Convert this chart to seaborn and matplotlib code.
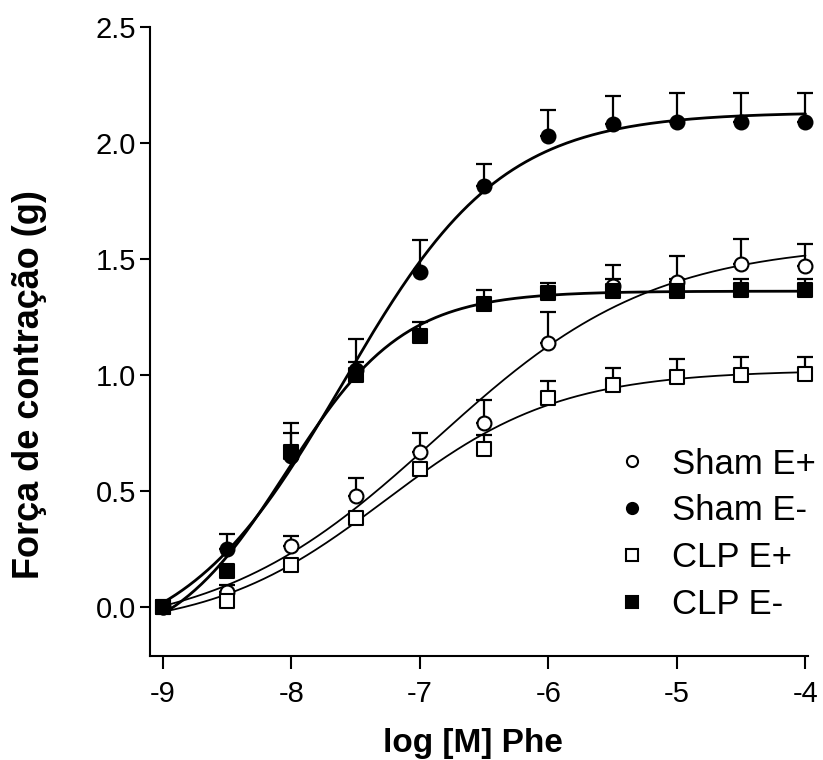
import numpy as np
import pandas as pd
import matplotlib
matplotlib.use("Agg")
import matplotlib.pyplot as plt
from matplotlib.lines import Line2D
import seaborn as sns

# log [M] Phe
log_phe = [-9, -8.5, -8, -7.5, -7, -6.5, -6, -5.5, -5, -4.5, -4]

# media e erro (apenas barra superior)
sham_ep = [0.0, 0.065, 0.262, 0.480, 0.667, 0.793, 1.137, 1.385, 1.402, 1.481, 1.471]
sham_ep_err = [0.0, 0.030, 0.045, 0.079, 0.083, 0.101, 0.133, 0.089, 0.110, 0.105, 0.094]

sham_em = [0.0, 0.250, 0.652, 1.023, 1.443, 1.813, 2.032, 2.082, 2.092, 2.092, 2.092]
sham_em_err = [0.0, 0.065, 0.141, 0.132, 0.140, 0.095, 0.112, 0.119, 0.124, 0.124, 0.124]

clp_ep = [0.0, 0.027, 0.182, 0.384, 0.595, 0.684, 0.901, 0.957, 0.990, 1.000, 1.003]
clp_ep_err = [0.0, 0.020, 0.020, 0.020, 0.020, 0.057, 0.074, 0.072, 0.079, 0.079, 0.076]

clp_em = [0.0, 0.157, 0.667, 1.000, 1.169, 1.306, 1.352, 1.363, 1.363, 1.368, 1.368]
clp_em_err = [0.0, 0.020, 0.083, 0.057, 0.058, 0.062, 0.047, 0.051, 0.051, 0.046, 0.046]

labels = ["Sham E+", "Sham E-", "CLP E+", "CLP E-"]


def fit_sigmoid(x, y):
    # ajuste logistico de 4 parametros (busca em grade + minimos quadrados)
    x = np.asarray(x, float)
    y = np.asarray(y, float)
    best = None
    for ec50 in np.arange(-9.0, -4.0, 0.01):
        for h in np.arange(0.3, 2.5, 0.01):
            f = 1.0 / (1.0 + 10 ** ((ec50 - x) * h))
            A = np.column_stack([np.ones_like(f), f])
            coef, *_ = np.linalg.lstsq(A, y, rcond=None)
            sse = np.sum((A @ coef - y) ** 2)
            if best is None or sse < best[0]:
                best = (sse, ec50, h, coef)
    _, ec50, h, coef = best
    xs = np.linspace(-9, -4, 300)
    return xs, coef[0] + coef[1] / (1.0 + 10 ** ((ec50 - xs) * h))


sns.set_style("ticks")
plt.rcParams['font.family'] = ['Liberation Sans', 'DejaVu Sans']
plt.rcParams['text.color'] = 'black'
plt.rcParams['axes.labelcolor'] = 'black'

fig = plt.figure(figsize=(8.23, 7.6), dpi=100)
ax = fig.add_axes([0.1823, 0.1368, 0.7995, 0.8277])

series = [
    (sham_ep, sham_ep_err, 'o', 'white', 1.3),
    (sham_em, sham_em_err, 'o', 'black', 2.0),
    (clp_ep, clp_ep_err, 's', 'white', 1.3),
    (clp_em, clp_em_err, 's', 'black', 2.0),
]

handles = []
for (y, err, mk, fc, lw), lab in zip(series, labels):
    xs, ys = fit_sigmoid(log_phe, y)
    sns.lineplot(x=xs, y=ys, color='black', lw=lw, ax=ax, zorder=2)
    ax.errorbar(log_phe, y, yerr=[np.zeros(len(err)), err], fmt='none',
                ecolor='black', elinewidth=1.6, capsize=6, capthick=1.6,
                zorder=3, clip_on=False)
    size = 100 if mk == 'o' else 90
    sns.scatterplot(x=log_phe, y=y, marker=mk, s=size, facecolor=fc,
                    edgecolor='black', linewidth=1.5, ax=ax, zorder=4, clip_on=False)
    handles.append(Line2D([], [], marker=mk, ls='none', markersize=8,
                          markerfacecolor=fc, markeredgecolor='black',
                          markeredgewidth=1.5, label=lab))

ax.set_xlim(-9.1, -3.98)
ax.set_ylim(-0.21, 2.5)
ax.set_xticks([-9, -8, -7, -6, -5, -4])
ax.set_xticklabels(['-9', '-8', '-7', '-6', '-5', '-4'])
ax.set_yticks([0.0, 0.5, 1.0, 1.5, 2.0, 2.5])
ax.set_yticklabels(['0.0', '0.5', '1.0', '1.5', '2.0', '2.5'])
ax.tick_params(axis='both', labelsize=21, width=1.5, color='black', labelcolor='black')
ax.tick_params(axis='x', length=9, pad=8)
ax.tick_params(axis='y', length=7, pad=3)
for s in ['top', 'right']:
    ax.spines[s].set_visible(False)
for s in ['left', 'bottom']:
    ax.spines[s].set_linewidth(1.5)
    ax.spines[s].set_color('black')

ax.set_xlabel('log [M] Phe', fontsize=24, fontweight='bold', color='black')
ax.xaxis.set_label_coords(0.49, -0.114)
ax.set_ylabel('Força de contração (g)', fontsize=26, fontweight='bold', color='black')
ax.yaxis.set_label_coords(-0.157, 0.432)

leg = ax.legend(handles=handles, loc='upper left', bbox_to_anchor=(0.736, 0.434),
                bbox_transform=fig.transFigure, frameon=False, fontsize=25,
                handlelength=0.5, handletextpad=0.9, labelspacing=0.4, borderpad=0)
for t in leg.get_texts():
    t.set_color('black')

fig.savefig('out.png', dpi=100, facecolor='white')
